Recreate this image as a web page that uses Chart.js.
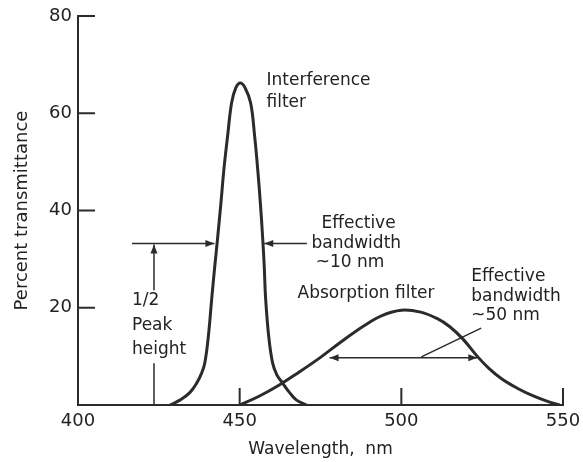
<!DOCTYPE html>
<html>
<head>
<meta charset="utf-8">
<script src="https://cdn.jsdelivr.net/npm/chart.js@4"></script>
<style>
  body { margin: 0; background: #fff; }
</style>
</head>
<body>
<canvas id="mychart" width="583" height="462"></canvas>
<script>
// interference filter, wavelength (nm) and percent transmittance
var interfNm  = [428.5, 431.5, 434.5, 436.7, 438.2, 439.2, 440.3, 441.4, 442.3, 443.2, 444.2, 445.1, 446.3, 447.5, 448.8, 450.2,
                 451.7, 453.4, 454.6, 455.6, 456.4, 457.1, 457.6, 458.0, 459.0, 460.2, 461.5, 463.3, 465.5, 467.6, 470.7]
var interfPct = [0, 1, 2.5, 4.5, 6.5, 8.6, 14, 22.2, 28.5, 34.5, 41.5, 48.3, 55.5, 62.1, 65.2, 66.2,
                 65.2, 62.1, 55.5, 48.3, 41.5, 34.5, 28.5, 22.2, 14, 8.6, 6.2, 4.5, 2.5, 1, 0]

// absorption filter
var absorbNm  = [450, 456, 462, 468, 475, 481, 488, 494, 500, 506, 511, 515, 519, 523.5, 527, 531, 536, 541, 545, 549]
var absorbPct = [0, 1.8, 4, 6.6, 9.8, 12.8, 16.1, 18.4, 19.5, 19.1, 17.8, 16.1, 13.6, 10, 7.6, 5.4, 3.4, 1.8, 0.8, 0]

var xTicks = [400, 450, 500, 550]
var yTicks = [20, 40, 60, 80]

// text notes: wavelength, percent, text
var notes = [
  [458.3, 66.8, 'Interference'],
  [458.3, 62.1, 'filter'],
  [475.3, 37.4, 'Effective'],
  [472.2, 33.2, 'bandwidth'],
  [473.5, 29.2, '~10 nm'],
  [467.9, 23.0, 'Absorption filter'],
  [521.6, 26.5, 'Effective'],
  [521.6, 22.4, 'bandwidth'],
  [521.6, 18.3, '~50 nm'],
  [416.7, 21.4, '1/2'],
  [416.7, 16.3, 'Peak'],
  [416.7, 11.3, 'height']
]

// arrows and leader lines: x1, y1, x2, y2, heads ('end', 'both', '')
var arrows = [
  [416.7, 33.2, 442.2, 33.2, 'end'],
  [470.8, 33.2, 457.6, 33.2, 'end'],
  [423.5, 23.6, 423.5, 33.0, 'end'],
  [423.5, 0, 423.5, 8.6, ''],
  [477.8, 9.7, 523.5, 9.7, 'both'],
  [506.2, 9.9, 524.7, 15.8, '']
]

function pts(xs, ys) {
  var out = []
  for (var i = 0; i < xs.length; i++) out.push({x: xs[i], y: ys[i]})
  return out
}

function head(ctx, x, y, ang) {
  ctx.beginPath()
  ctx.moveTo(x, y)
  ctx.lineTo(x - 9 * Math.cos(ang) + 3.5 * Math.sin(ang), y - 9 * Math.sin(ang) - 3.5 * Math.cos(ang))
  ctx.lineTo(x - 9 * Math.cos(ang) - 3.5 * Math.sin(ang), y - 9 * Math.sin(ang) + 3.5 * Math.cos(ang))
  ctx.closePath()
  ctx.fill()
}

var extras = {
  id: 'extras',
  afterDraw: function (chart) {
    var ctx = chart.ctx
    var xs = chart.scales.x, ys = chart.scales.y
    var ink = '#2b2b2b'
    ctx.save()
    // inward tick marks
    ctx.strokeStyle = ink
    ctx.lineWidth = 2
    var y0 = ys.getPixelForValue(0), x0 = xs.getPixelForValue(400)
    yTicks.forEach(function (v) {
      var py = ys.getPixelForValue(v)
      ctx.beginPath(); ctx.moveTo(x0, py); ctx.lineTo(x0 + 17, py); ctx.stroke()
    })
    xTicks.forEach(function (v) {
      if (v == 400) return
      var px = xs.getPixelForValue(v)
      ctx.beginPath(); ctx.moveTo(px, y0); ctx.lineTo(px, y0 - 17); ctx.stroke()
    })
    // arrows
    ctx.lineWidth = 1.5
    ctx.fillStyle = ink
    arrows.forEach(function (a) {
      var x1 = xs.getPixelForValue(a[0]), y1 = ys.getPixelForValue(a[1])
      var x2 = xs.getPixelForValue(a[2]), y2 = ys.getPixelForValue(a[3])
      ctx.beginPath(); ctx.moveTo(x1, y1); ctx.lineTo(x2, y2); ctx.stroke()
      var ang = Math.atan2(y2 - y1, x2 - x1)
      if (a[4] == 'end' || a[4] == 'both') head(ctx, x2, y2, ang)
      if (a[4] == 'both') head(ctx, x1, y1, ang + Math.PI)
    })
    // notes
    ctx.fillStyle = '#222'
    ctx.font = '17px "DejaVu Sans"'
    ctx.textAlign = 'left'
    ctx.textBaseline = 'middle'
    notes.forEach(function (n) {
      ctx.fillText(n[2], xs.getPixelForValue(n[0]), ys.getPixelForValue(n[1]))
    })
    ctx.restore()
  }
}

var myChart = document.getElementById('mychart').getContext('2d')

var chart = new Chart(myChart, {
  type: 'line',
  data: {
    datasets: [
      {
        label: 'Interference filter',
        data: pts(interfNm, interfPct),
        borderColor: '#2b2b2b',
        borderWidth: 3,
        pointRadius: 0,
        fill: false,
        tension: 0.4
      },
      {
        label: 'Absorption filter',
        data: pts(absorbNm, absorbPct),
        borderColor: '#2b2b2b',
        borderWidth: 3,
        pointRadius: 0,
        fill: false,
        tension: 0.4
      }
    ]
  },
  options: {
    responsive: false,
    animation: false,
    layout: { padding: { top: 16, right: 20, bottom: 0, left: 0 } },
    plugins: { legend: { display: false }, tooltip: { enabled: false } },
    scales: {
      x: {
        type: 'linear',
        min: 400,
        max: 550,
        afterFit: function (s) { s.height = 57; s.paddingLeft = 0; s.paddingRight = 0 },
        ticks: { stepSize: 50, padding: 6, color: '#222', font: { family: 'DejaVu Sans', size: 18 } },
        grid: { drawOnChartArea: false, drawTicks: false },
        border: { display: true, color: '#2b2b2b', width: 2 },
        title: {
          display: true,
          text: 'Wavelength,  nm',
          color: '#222',
          font: { family: 'DejaVu Sans', size: 17 },
          padding: { top: 0, bottom: 2 }
        }
      },
      y: {
        min: 0,
        max: 80,
        afterFit: function (s) { s.width = 78; s.paddingTop = 0; s.paddingBottom = 0 },
        ticks: {
          stepSize: 20,
          padding: 6,
          color: '#222',
          font: { family: 'DejaVu Sans', size: 18 },
          callback: function (v) { return v == 0 ? '' : v }
        },
        grid: { drawOnChartArea: false, drawTicks: false },
        border: { display: true, color: '#2b2b2b', width: 2 },
        title: {
          display: true,
          text: 'Percent transmittance',
          color: '#222',
          font: { family: 'DejaVu Sans', size: 18 },
          padding: { top: 12, bottom: 0 }
        }
      }
    }
  },
  plugins: [extras]
})
</script>
</body>
</html>
